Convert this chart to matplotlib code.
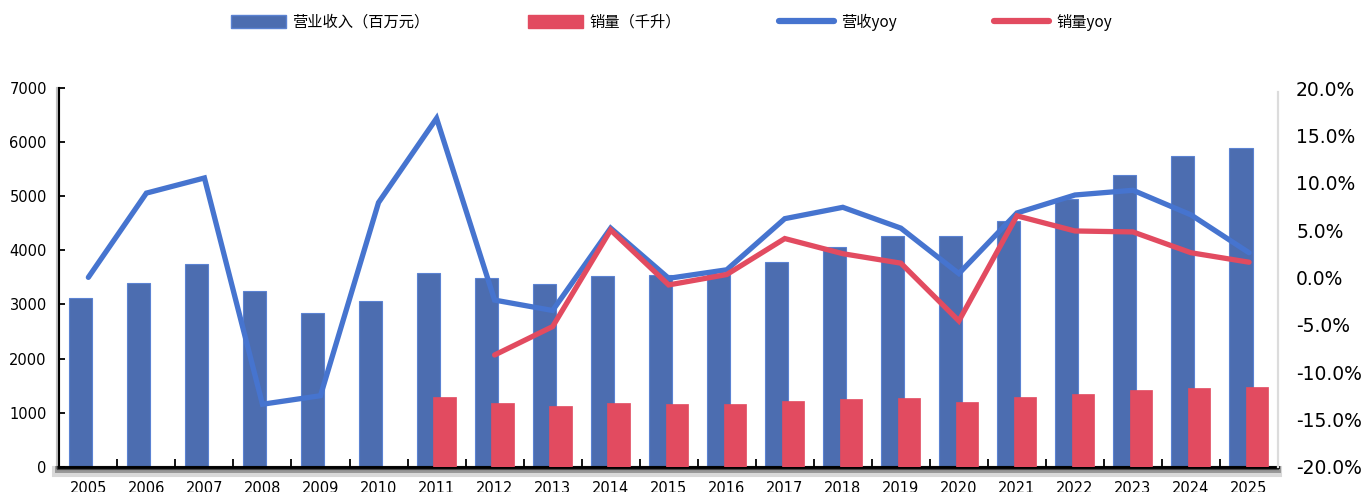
import matplotlib
matplotlib.use("Agg")
import matplotlib.pyplot as plt
import numpy as np
from matplotlib import patheffects as pe
from matplotlib.patches import Patch
from matplotlib.lines import Line2D
from matplotlib.ticker import FuncFormatter, FixedLocator

plt.rcParams['font.family'] = ['DejaVu Sans', 'Noto Sans CJK SC']

years = [str(y) for y in range(2005, 2026)]

# 营业收入（百万元）
revenue = [3120, 3390, 3750, 3240, 2840, 3070, 3580, 3490, 3370, 3530, 3540,
           3560, 3780, 4060, 4265, 4265, 4550, 4945, 5400, 5745, 5900]
# 销量（千升），2011年起
volume = [np.nan] * 6 + [1287, 1176, 1127, 1176, 1164, 1164, 1213, 1250,
                         1262, 1200, 1287, 1348, 1422, 1453, 1478]
# 营收yoy
rev_yoy = [0.000, 0.089, 0.105, -0.134, -0.125, 0.079, 0.168, -0.024, -0.035,
           0.052, -0.001, 0.008, 0.062, 0.074, 0.052, 0.004, 0.068, 0.087,
           0.092, 0.066, 0.026]
# 销量yoy，2012年起
vol_yoy = [np.nan] * 7 + [-0.082, -0.052, 0.050, -0.008, 0.003, 0.041, 0.025,
                          0.015, -0.046, 0.065, 0.049, 0.048, 0.026, 0.016]

bar_blue = '#4C6DB0'
line_blue = '#4674CF'
red = '#E24B60'

x = np.arange(len(years))

fig = plt.figure(figsize=(13.64, 4.92), dpi=100)
ax = fig.add_axes([0.0435, 0.0514, 0.8935, 0.7697])
ax2 = ax.twinx()

ax.bar(x - 0.14, revenue, width=0.4, color=bar_blue, edgecolor='#5B82D2',
       linewidth=0.8, zorder=2)
ax.bar(x + 0.14, volume, width=0.39, color=red, edgecolor=red,
       linewidth=0.5, zorder=3)

ax2.plot(x, rev_yoy, color=line_blue, lw=3.8, solid_capstyle='round',
         solid_joinstyle='miter')
ax2.plot(x, vol_yoy, color=red, lw=3.8, solid_capstyle='round',
         solid_joinstyle='miter')

ax.set_xlim(-0.5, len(years) - 0.5)
ax.set_ylim(0, 7000)
ax2.set_ylim(-0.20, 0.20)

ax.set_yticks(np.arange(0, 7001, 1000))
ax.set_xticks(x)
ax.set_xticklabels(years)
ax.xaxis.set_minor_locator(FixedLocator(np.arange(0.5, len(years) - 1, 1)))
ax.tick_params(axis='x', which='major', length=0, pad=10, labelsize=10.5)
ax.tick_params(axis='x', which='minor', direction='in', length=6, width=1.3,
               color='black')
ax.tick_params(axis='y', direction='in', length=4, width=1.3, pad=9,
               labelsize=10.5)


def pct(v, _):
    return f'{round(v * 100, 1) + 0.0:.1f}%'


ax2.set_yticks(np.arange(-0.20, 0.201, 0.05))
ax2.yaxis.set_major_formatter(FuncFormatter(pct))
ax2.tick_params(axis='y', length=0, pad=13, labelsize=13.5)

shadow = [pe.SimpleLineShadow(offset=(-1.5, -3), shadow_color='k',
                              alpha=0.15, linewidth=8),
          pe.SimpleLineShadow(offset=(-1, -2), shadow_color='k',
                              alpha=0.3, linewidth=5),
          pe.SimpleLineShadow(offset=(-0.5, -1), shadow_color='k',
                              alpha=0.5, linewidth=3),
          pe.Normal()]

for a in (ax, ax2):
    a.spines['top'].set_visible(False)
ax.spines['right'].set_visible(False)
ax2.spines['left'].set_visible(False)
ax2.spines['bottom'].set_visible(False)
ax2.spines['right'].set_color('#dcdcdc')
ax2.spines['right'].set_linewidth(1.6)
ax2.spines['right'].set_bounds(-0.20, 0.196)

ax.spines['bottom'].set_linewidth(2)
ax.spines['bottom'].set_path_effects(shadow)
ax.spines['left'].set_linewidth(1.5)
ax.spines['left'].set_path_effects(
    [pe.SimpleLineShadow(offset=(-1.2, -0.5), shadow_color='k', alpha=0.25,
                         linewidth=3), pe.Normal()])

handles = [Patch(facecolor=bar_blue, edgecolor='#5B82D2', label='营业收入（百万元）'),
           Patch(facecolor=red, edgecolor=red, label='销量（千升）'),
           Line2D([], [], color=line_blue, lw=4.5, solid_capstyle='round',
                  label='营收yoy'),
           Line2D([], [], color=red, lw=4.5, solid_capstyle='round',
                  label='销量yoy')]
fig.legend(handles=handles, loc='center left', bbox_to_anchor=(0.1635, 0.955),
           ncol=4, frameon=False, handlelength=3.6, handleheight=0.85,
           handletextpad=0.45, columnspacing=6.4, borderpad=0,
           prop={'family': ['Noto Sans CJK SC', 'DejaVu Sans'], 'size': 11})

fig.savefig('out.png', dpi=100, facecolor='white')
